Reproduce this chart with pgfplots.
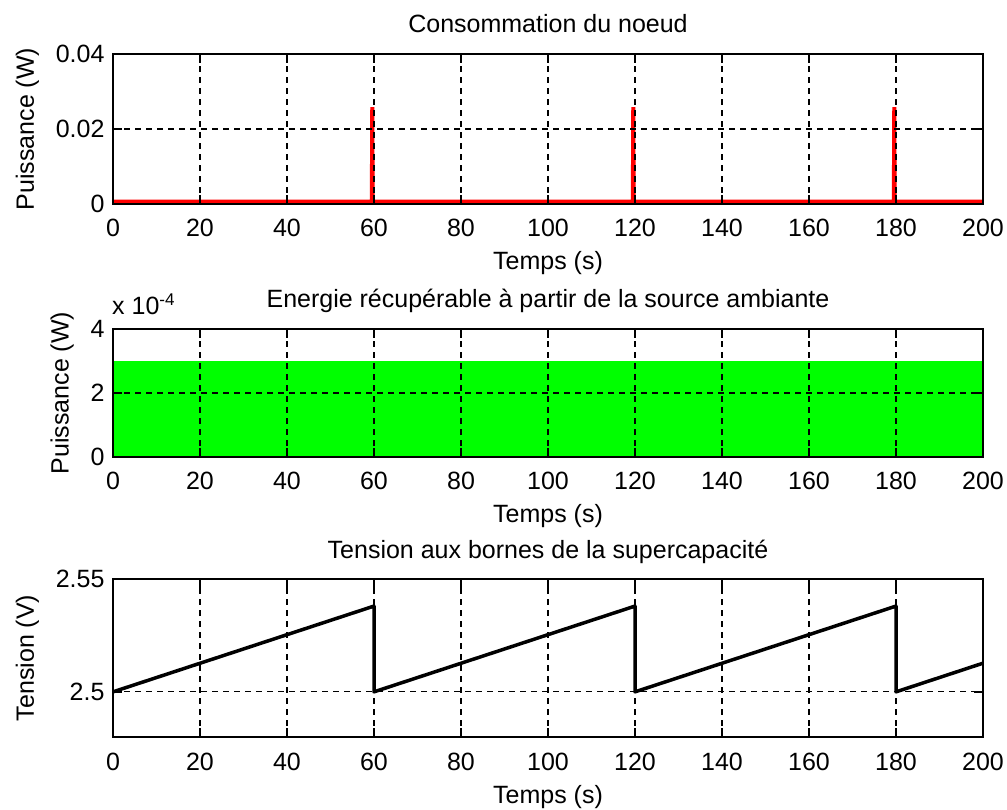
\documentclass[border=0pt]{standalone}
\usepackage{fontspec}
\setmainfont{Liberation Sans}
\usepackage{pgfplots}
\pgfplotsset{compat=1.18}
\pgfplotsset{
  mystyle/.style={
    scale only axis, width=870pt, xmin=0, xmax=200,
    xtick={0,20,...,200},
    grid=major,
    major grid style={black, line width=1.2pt, dash pattern=on 6pt off 5pt},
    axis line style={black, line width=1.8pt},
    tick align=inside,
    major tick length=9pt,
    tick style={black, line width=1.5pt},
    /pgf/number format/assume math mode=true,
    scaled ticks=false,
    xticklabel style={anchor=base, yshift=-33pt},
    xlabel={Temps (s)},
    every axis x label/.style={at={(axis description cs:0.5,0)}, anchor=base, yshift=-66pt},
    every axis title/.style={at={(axis description cs:0.5,1)}, anchor=base, yshift=21pt},
    anchor=south west,
    axis on top,
    clip=false,
  }
}
\begin{document}
\fontsize{25}{30}\selectfont
\begin{tikzpicture}
\useasboundingbox (0,0) rectangle (1007pt,809pt);

\begin{axis}[mystyle, at={(113pt,605pt)}, height=150pt,
  ymin=0, ymax=0.04, ytick={0,0.02,0.04}, yticklabels={0,0.02,0.04},
  ylabel={Puissance (W)}, title={Consommation du noeud}]
\addplot[red, line width=4pt, line join=bevel] coordinates {
 (0,0.0006) (59.5,0.0006) (59.6,0.0258) (59.7,0.0006)
 (119.5,0.0006) (119.6,0.0258) (119.7,0.0006)
 (179.5,0.0006) (179.6,0.0258) (179.7,0.0006) (200,0.0006)};
\end{axis}

\begin{axis}[mystyle, name=ax2, at={(113pt,352pt)}, height=128pt,
  ymin=0, ymax=4, ytick={0,2,4}, yticklabels={0,2,4},
  ylabel={Puissance (W)}, title={Energie récupérable à partir de la source ambiante}]
\addplot[fill={rgb,255:red,0;green,255;blue,0}, draw=none] coordinates {(0,3.0) (200,3.0)} \closedcycle;
\end{axis}
\node[anchor=base west, inner sep=0pt] at ([xshift=-1pt,yshift=14pt]ax2.north west)
  {x 10\raisebox{9pt}{\fontsize{17}{17}\selectfont -4}};

\begin{axis}[mystyle, at={(113pt,72pt)}, height=158pt,
  ymin=2.48, ymax=2.55, ytick={2.5,2.55}, yticklabels={2.5,2.55},
  ylabel={Tension (V)}, title={Tension aux bornes de la supercapacité}]
\addplot[black, line width=3.5pt, line join=round] coordinates {
 (0,2.5) (60,2.538) (60,2.5) (120,2.538) (120,2.5) (180,2.538) (180,2.5) (200,2.5127)};
\end{axis}
\end{tikzpicture}
\end{document}
